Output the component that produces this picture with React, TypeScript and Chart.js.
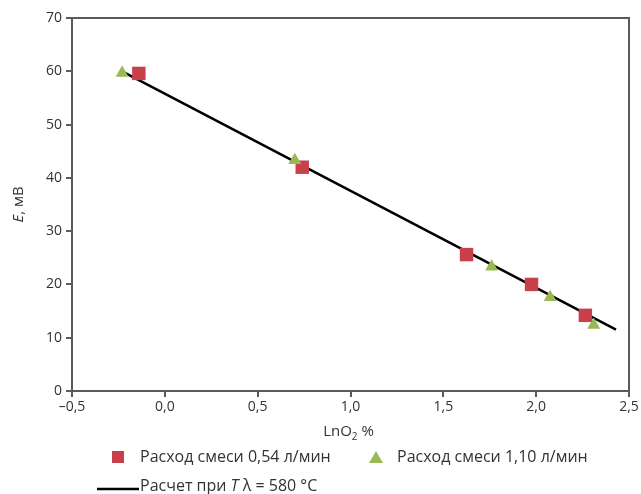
import React, { useEffect, useRef } from "react";
import { Chart, registerables } from "chart.js";

Chart.register(...registerables);

const squareX = [-0.14, 0.74, 1.625, 1.975, 2.265];
const squareY = [59.6, 42.0, 25.6, 20.0, 14.2];
const triangleX = [-0.23, 0.7, 1.76, 2.075, 2.31];
const triangleY = [59.7, 43.3, 23.3, 17.6, 12.4];
const calcX = [-0.23, 2.43];
const calcY = [60.0, 11.5];

const xTicks = [-0.5, 0, 0.5, 1, 1.5, 2, 2.5];
const yTicks = [0, 10, 20, 30, 40, 50, 60, 70];

const legendSquare = "Расход смеси 0,54 л/мин";
const legendTriangle = "Расход смеси 1,10 л/мин";
const legendLinePre = "Расчет при ";
const legendLineItalic = "T";
const legendLinePost = " λ = 580 °C";

const RED = "#C8404A";
const GREEN = "#98B954";
const AXIS = "#5a5a5a";
const TEXT = "#333333";
const FONT = '"Open Sans", "Noto Sans", sans-serif';

const pts = (xs: number[], ys: number[]) => xs.map((x, i) => ({ x, y: ys[i] }));

const fmtX = (v: number) => {
  const s = v.toFixed(1).replace(".", ",");
  return v < 0 ? "–" + s.slice(1) : s;
};

const decorPlugin = {
  id: "decor",
  afterDraw(chart: any) {
    const { ctx, chartArea } = chart;
    const { left, right, top, bottom } = chartArea;
    ctx.save();
    ctx.strokeStyle = AXIS;
    ctx.lineWidth = 2;
    ctx.beginPath();
    ctx.moveTo(left, top);
    ctx.lineTo(right, top);
    ctx.lineTo(right, bottom);
    ctx.stroke();

    ctx.fillStyle = TEXT;
    ctx.textBaseline = "middle";

    // x title LnO2 %
    const cx = (left + right) / 2 - 2;
    const ty = 432;
    ctx.font = `15px ${FONT}`;
    const w1 = ctx.measureText("LnO").width;
    ctx.font = `10px ${FONT}`;
    const w2 = ctx.measureText("2").width;
    ctx.font = `15px ${FONT}`;
    const w3 = ctx.measureText(" %").width;
    const sx = cx - (w1 + w2 + w3) / 2;
    ctx.textAlign = "left";
    ctx.fillText("LnO", sx, ty);
    ctx.font = `10px ${FONT}`;
    ctx.fillText("2", sx + w1, ty + 5);
    ctx.font = `15px ${FONT}`;
    ctx.fillText(" %", sx + w1 + w2, ty);

    // y title E, мВ
    ctx.save();
    ctx.translate(19, (top + bottom) / 2);
    ctx.rotate(-Math.PI / 2);
    ctx.font = `italic 15px ${FONT}`;
    const e1 = ctx.measureText("E").width;
    ctx.font = `15px ${FONT}`;
    const e2 = ctx.measureText(", мВ").width;
    const ex = -(e1 + e2) / 2;
    ctx.font = `italic 15px ${FONT}`;
    ctx.fillText("E", ex, 0);
    ctx.font = `15px ${FONT}`;
    ctx.fillText(", мВ", ex + e1, 0);
    ctx.restore();

    // legend
    const ly1 = 457;
    ctx.fillStyle = RED;
    ctx.fillRect(112, ly1 - 6, 12, 12);
    ctx.fillStyle = TEXT;
    ctx.font = `16px ${FONT}`;
    ctx.fillText(legendSquare, 140, ly1);

    ctx.fillStyle = GREEN;
    ctx.beginPath();
    ctx.moveTo(376, ly1 - 6);
    ctx.lineTo(383, ly1 + 6);
    ctx.lineTo(369, ly1 + 6);
    ctx.closePath();
    ctx.fill();
    ctx.fillStyle = TEXT;
    ctx.fillText(legendTriangle, 397, ly1);

    const ly2 = 486;
    ctx.strokeStyle = "#000";
    ctx.lineWidth = 2.5;
    ctx.beginPath();
    ctx.moveTo(97, ly2 + 3);
    ctx.lineTo(139, ly2 + 3);
    ctx.stroke();
    let lx = 140;
    ctx.font = `16px ${FONT}`;
    ctx.fillText(legendLinePre, lx, ly2);
    lx += ctx.measureText(legendLinePre).width;
    ctx.font = `italic 16px ${FONT}`;
    ctx.fillText(legendLineItalic, lx, ly2);
    lx += ctx.measureText(legendLineItalic).width;
    ctx.font = `16px ${FONT}`;
    ctx.fillText(legendLinePost, lx, ly2);
    ctx.restore();
  },
};

export default function App() {
  const ref = useRef<HTMLCanvasElement>(null);
  useEffect(() => {
    document.body.style.margin = "0";
    const chart = new Chart(ref.current!, {
      type: "scatter",
      data: {
        datasets: [
          {
            label: legendTriangle,
            data: pts(triangleX, triangleY),
            pointStyle: "triangle",
            pointRadius: 7.5,
            backgroundColor: GREEN,
            borderColor: GREEN,
            borderWidth: 0,
          },
          {
            label: legendSquare,
            data: pts(squareX, squareY),
            pointStyle: "rect",
            pointRadius: 9.5,
            backgroundColor: RED,
            borderColor: RED,
            borderWidth: 0,
          },
          {
            type: "line",
            label: "Расчет",
            data: pts(calcX, calcY),
            borderColor: "#000",
            borderWidth: 2.5,
            pointRadius: 0,
            showLine: true,
            fill: false,
          } as any,
        ],
      },
      options: {
        animation: false,
        responsive: false,
        layout: { padding: { top: 18, right: 12, left: 0, bottom: 0 } },
        plugins: { legend: { display: false }, tooltip: { enabled: false } },
        scales: {
          x: {
            type: "linear",
            min: -0.5,
            max: 2.5,
            afterBuildTicks: (s: any) => {
              s.ticks = xTicks.map((value) => ({ value }));
            },
            afterFit: (s: any) => {
              s.height = 103;
            },
            ticks: {
              callback: (v: any) => fmtX(Number(v)),
              color: TEXT,
              font: { family: FONT, size: 14 },
              padding: 2,
              maxRotation: 0,
            },
            grid: { drawOnChartArea: false, drawTicks: true, tickLength: 6, color: AXIS, lineWidth: 2 },
            border: { color: AXIS, width: 2 },
          },
          y: {
            min: 0,
            max: 70,
            afterBuildTicks: (s: any) => {
              s.ticks = yTicks.map((value) => ({ value }));
            },
            afterFit: (s: any) => {
              s.width = 72;
            },
            ticks: {
              color: TEXT,
              font: { family: FONT, size: 14 },
              padding: 4,
            },
            grid: { drawOnChartArea: false, drawTicks: true, tickLength: 6, color: AXIS, lineWidth: 2 },
            border: { color: AXIS, width: 2 },
          },
        },
      },
      plugins: [decorPlugin],
    });
    return () => chart.destroy();
  }, []);
  return (
    <div style={{ position: "absolute", left: 0, top: 0, width: 641, height: 494 }}>
      <canvas ref={ref} width={641} height={494} style={{ width: 641, height: 494 }} />
    </div>
  );
}
